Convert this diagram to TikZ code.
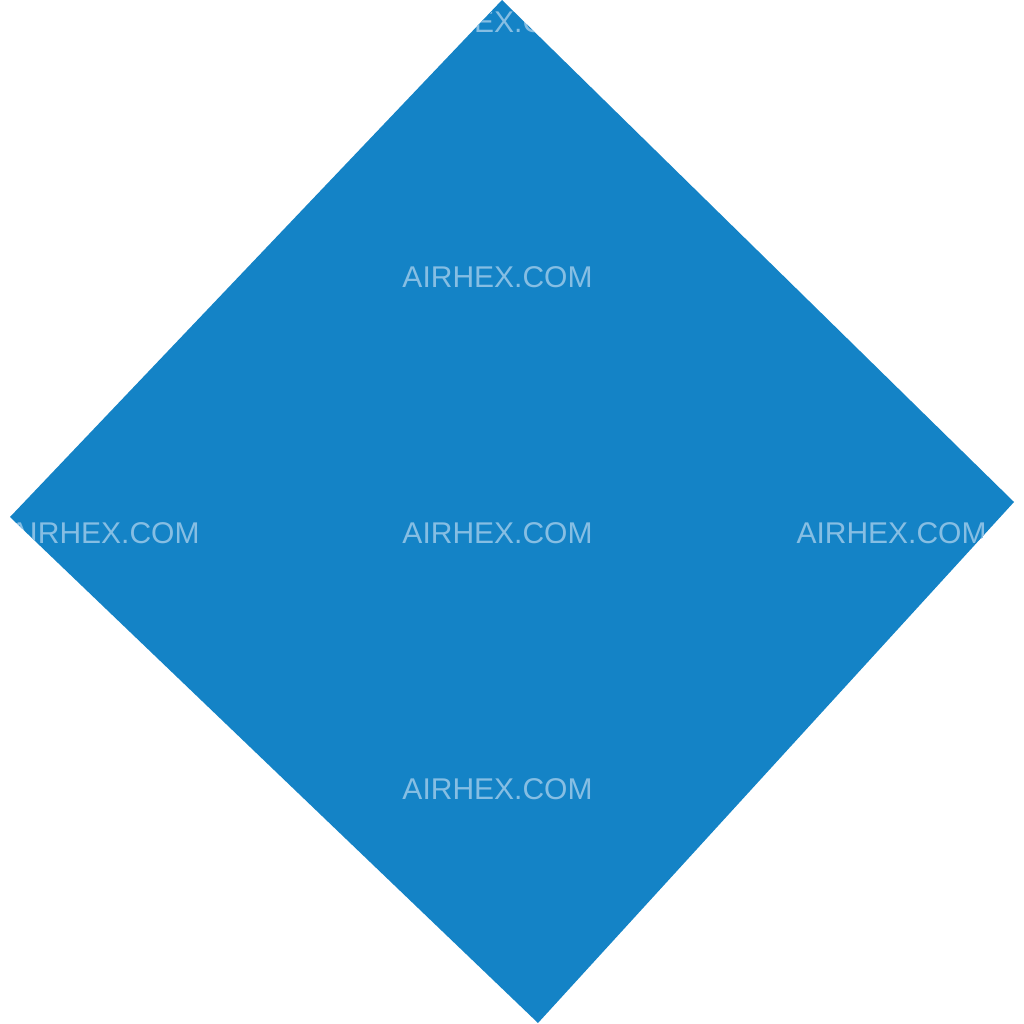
\documentclass[tikz,border=0pt]{standalone}
\usepackage{fontspec}
\setmainfont{Liberation Sans}
\definecolor{flagblue}{HTML}{1483C6}
\definecolor{wmark}{HTML}{86BEE3}
\begin{document}
\begin{tikzpicture}[x=1pt,y=-1pt,
  wm/.style={text=wmark,font=\fontsize{30}{30}\selectfont,inner sep=0pt,anchor=center}]
\useasboundingbox (0,0) rectangle (1024,1024);
\coordinate (T) at (502,0);
\coordinate (R) at (1014,502);
\coordinate (B) at (538,1023);
\coordinate (L) at (10,517);
\fill[flagblue] (T) -- (R) -- (B) -- (L) -- cycle;
\begin{scope}
\clip (T) -- (R) -- (B) -- (L) -- cycle;
\node[wm] (w1) at (497.5,22) {AIRHEX.COM};
\node[wm] (w2) at (497.5,277) {AIRHEX.COM};
\node[wm] (w3) at (497.5,533) {AIRHEX.COM};
\node[wm] (w4) at (497.5,789) {AIRHEX.COM};
\node[wm] (w5) at (104.5,533) {AIRHEX.COM};
\node[wm] (w6) at (891.5,533) {AIRHEX.COM};
\end{scope}
\end{tikzpicture}
\end{document}
